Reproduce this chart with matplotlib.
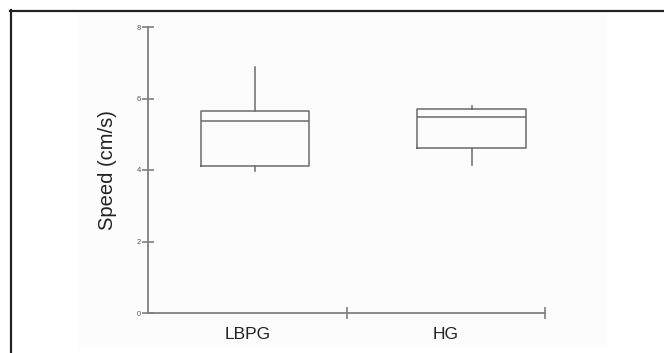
import matplotlib
matplotlib.use('Agg')
import matplotlib.pyplot as plt
from matplotlib.lines import Line2D
from matplotlib.patches import Rectangle

groups = ['LBPG', 'HG']
label_pos = [1.0, 2.0]
box_pos = [1.04, 2.13]
whislo = [3.98, 4.13]
q1 = [4.10, 4.61]
med = [5.38, 5.47]
q3 = [5.66, 5.71]
whishi = [6.89, 5.80]

plt.rcParams['font.family'] = ['Liberation Sans', 'DejaVu Sans']

fig = plt.figure(figsize=(6.64, 3.53), dpi=100)

# faint background of the pasted picture
fig.patches.append(Rectangle((78 / 664, 1 - 348 / 353), (607 - 78) / 664, (348 - 13) / 353,
                             transform=fig.transFigure, facecolor='#fcfcfc', edgecolor='none', zorder=-5))
# outer frame (top and left only)
fig.lines.append(Line2D([10 / 664, 1], [1 - 10.5 / 353] * 2, transform=fig.transFigure, color='#222222', lw=1.6))
fig.lines.append(Line2D([10.5 / 664] * 2, [0, 1 - 10 / 353], transform=fig.transFigure, color='#222222', lw=1.6))

ax = fig.add_axes([148 / 664, 1 - 313 / 353, 397 / 664, 286 / 353])
ax.patch.set_alpha(0)

stats = []
for i in range(len(groups)):
    stats.append({'whislo': whislo[i], 'q1': q1[i], 'med': med[i], 'q3': q3[i],
                  'whishi': whishi[i], 'fliers': [], 'label': groups[i]})

line = dict(color='#6a6a6a', linewidth=1.1)
ax.bxp(stats, positions=box_pos, widths=0.545, showcaps=False, showfliers=False,
       boxprops=line, whiskerprops=line, medianprops=line, manage_ticks=False)

ax.set_xlim(0.5, 2.5)
ax.set_ylim(0, 8)
for s in ['top', 'right']:
    ax.spines[s].set_visible(False)
for s in ['left', 'bottom']:
    ax.spines[s].set_color('#808080')
    ax.spines[s].set_linewidth(1.3)

ax.set_yticks([0, 2, 4, 6, 8])
ax.tick_params(axis='y', direction='inout', length=9, width=1.2, color='#808080',
               labelsize=5.5, labelcolor='#555555', pad=0.5)
ax.set_xticks([1.5, 2.5])
ax.set_xticklabels([])
ax.tick_params(axis='x', direction='inout', length=9, width=1.2, color='#808080')
for x, g in zip(label_pos, groups):
    ax.text(x, -0.4, g, ha='center', va='top', fontsize=12.5, color='#222222')

ax.set_ylabel('Speed (cm/s)', fontsize=14.5, color='#222222', labelpad=14)

fig.savefig('out.png', dpi=100)
